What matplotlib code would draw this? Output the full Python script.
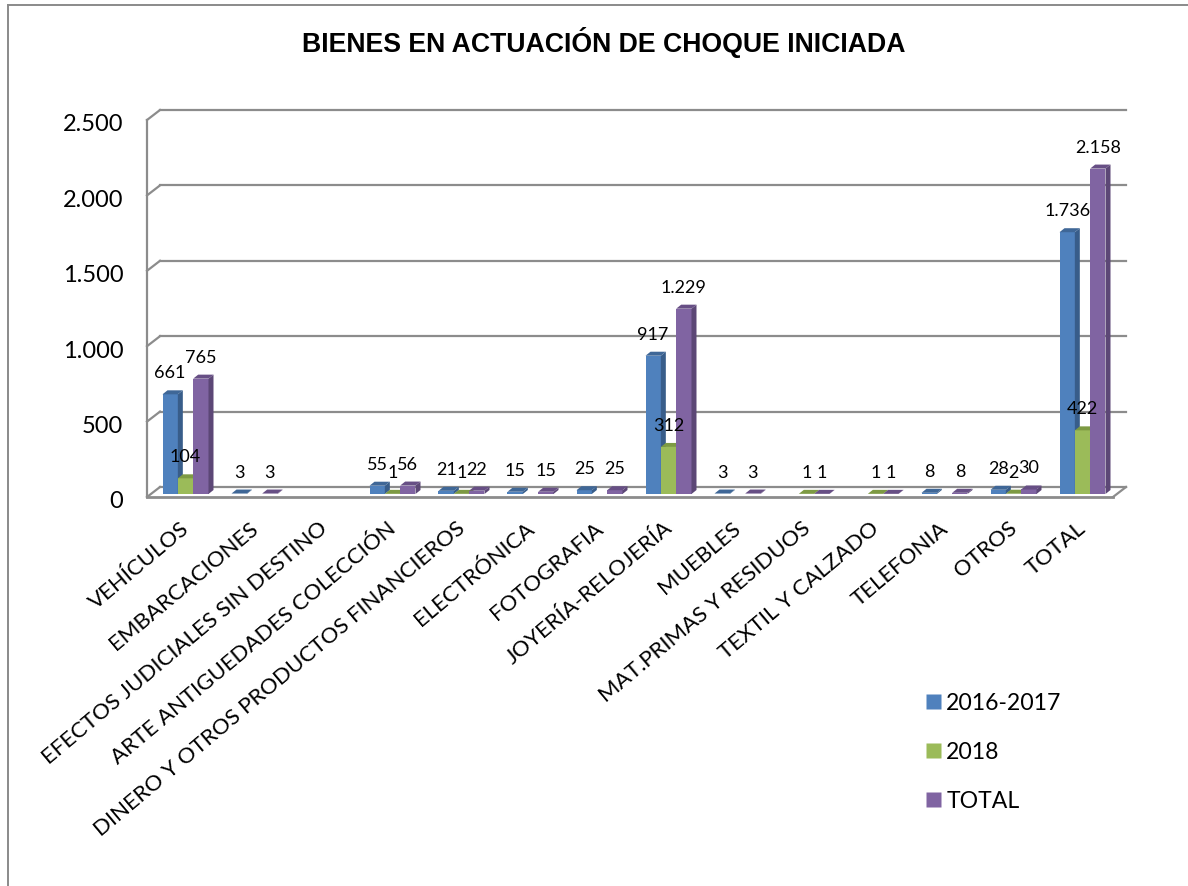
import numpy as np
import matplotlib
matplotlib.use("Agg")
import matplotlib.pyplot as plt
from matplotlib.lines import Line2D
from matplotlib.patches import Polygon
from matplotlib.transforms import Affine2D, ScaledTranslation

categories = ["VEHÍCULOS", "EMBARCACIONES", "EFECTOS JUDICIALES SIN DESTINO",
              "ARTE ANTIGUEDADES COLECCIÓN", "DINERO Y OTROS PRODUCTOS FINANCIEROS",
              "ELECTRÓNICA", "FOTOGRAFIA", "JOYERÍA-RELOJERÍA", "MUEBLES",
              "MAT.PRIMAS Y RESIDUOS", "TEXTIL Y CALZADO", "TELEFONIA", "OTROS", "TOTAL"]
periodo_2016 = [661, 3, 0, 55, 21, 15, 25, 917, 3, 0, 0, 8, 28, 1736]
periodo_2018 = [104, 0, 0, 1, 1, 0, 0, 312, 0, 1, 1, 0, 2, 422]
total = [765, 3, 0, 56, 22, 15, 25, 1229, 3, 1, 1, 8, 30, 2158]
series_names = ["2016-2017", "2018", "TOTAL"]
y_ticks = [0, 500, 1000, 1500, 2000, 2500]

FONT = "Lato"
W, H = 1188, 887
GRID = "#8C8C8C"

# front, side and top colours for the fake 3d bars
colors = [("#4F81BD", "#385D8A", "#3F6797"),
          ("#9BBB59", "#71893F", "#7D9A43"),
          ("#8064A2", "#5C4776", "#674F85")]


def fmt(v):
    return f"{v:,}".replace(",", ".")


fig = plt.figure(figsize=(W / 100, H / 100), dpi=100)
ax = fig.add_axes([147 / W, 1 - 498 / H, 966 / W, 377 / H])
ax.set_xlim(0, len(categories))
ax.set_ylim(0, 2500)
ax.patch.set_visible(False)
for s in ax.spines.values():
    s.set_visible(False)

wall = ax.transData + Affine2D().translate(13, 10)

# back wall grid and left side lines
for v in y_ticks:
    ax.plot([0, len(categories)], [v, v], color=GRID, lw=1.6, transform=wall, zorder=1, clip_on=False)
    x0, y0 = ax.transData.transform((0, v))
    ax.plot([x0, x0 + 13], [y0, y0 + 10], color=GRID, lw=1.6, transform=None, zorder=1, clip_on=False)
ax.plot([0, 0], [0, 2500], color=GRID, lw=1.6, zorder=2, clip_on=False)
ax.plot([0, len(categories)], [0, 0], color=GRID, lw=2, zorder=2, clip_on=False)
x1, y1 = ax.transData.transform((len(categories), 0))
ax.plot([x1, x1 + 13], [y1, y1 + 10], color=GRID, lw=1.6, transform=None, zorder=2, clip_on=False)

# bars sit a little behind the front edge of the floor
bar_shift = ax.transData + Affine2D().translate(4, 3)
bar_w = 46 / 69 / 3
dx, dy = 5, 4
x = np.arange(len(categories)) + 0.5
data = [periodo_2016, periodo_2018, total]

for i, vals in enumerate(data):
    front, side, top = colors[i]
    xs = x + (i - 1) * bar_w
    for xc, v in zip(xs, vals):
        if v == 0:
            continue
        z = 3 + xc * 0.01 + i * 0.001
        ax.bar(xc, v, bar_w, color=front, transform=bar_shift, zorder=z, clip_on=False)
        (xa, y_b), (xb, y_t) = bar_shift.transform([(xc - bar_w / 2, 0), (xc + bar_w / 2, v)])
        ax.add_patch(Polygon([(xb, y_b), (xb, y_t), (xb + dx, y_t + dy), (xb + dx, y_b + dy)],
                             fc=side, ec="none", transform=None, zorder=z, clip_on=False))
        ax.add_patch(Polygon([(xa, y_t), (xb, y_t), (xb + dx, y_t + dy), (xa + dx, y_t + dy)],
                             fc=top, ec="none", transform=None, zorder=z, clip_on=False))

# value labels go on top of every bar
for i, vals in enumerate(data):
    xs = x + (i - 1) * bar_w
    for xc, v in zip(xs, vals):
        if v == 0:
            continue
        px, py = bar_shift.transform((xc, v))
        ax.text(px, py + 22, fmt(v), transform=None, ha="center", va="center",
                fontsize=13, family=FONT, color="black", zorder=10)

ax.set_yticks(y_ticks, [fmt(v) for v in y_ticks], fontsize=17, family=FONT)
ax.set_xticks(x, categories, rotation=40, ha="right", rotation_mode="anchor",
              fontsize=16, family=FONT)
ax.tick_params(axis="y", length=0, pad=17)
ax.tick_params(axis="x", length=0, pad=14.5)

# small nudges so the tick text lands where the original has it
for lab in ax.get_yticklabels():
    lab.set_transform(lab.get_transform() + ScaledTranslation(0, -2 / 100, fig.dpi_scale_trans))
for lab in ax.get_xticklabels():
    lab.set_transform(lab.get_transform() + ScaledTranslation(-1.5 / 100, 0, fig.dpi_scale_trans))

fig.text(604 / W, 1 - 42 / H, "BIENES EN ACTUACIÓN DE CHOQUE INICIADA", ha="center", va="center",
         fontsize=19.2, fontweight="bold", family="Liberation Sans")

handles = [Line2D([], [], ls="none", marker="s", ms=10.8, mfc=c[0], mec="none") for c in colors]
fig.legend(handles, series_names, loc="center left", bbox_to_anchor=(905 / W, 1 - 752.5 / H),
           frameon=False, handlelength=0.65, handletextpad=0.24,
           labelspacing=1.2, prop={"family": FONT, "size": 16.6})

# outer chart frame, cut off by the picture
fig.add_artist(Line2D([8 / W, 8 / W], [1 - 6 / H, 0], color="#8A8A8A", lw=1.4))
fig.add_artist(Line2D([8 / W, 1], [1 - 6 / H, 1 - 6 / H], color="#8A8A8A", lw=1.4))

fig.savefig("out.png", dpi=100)
